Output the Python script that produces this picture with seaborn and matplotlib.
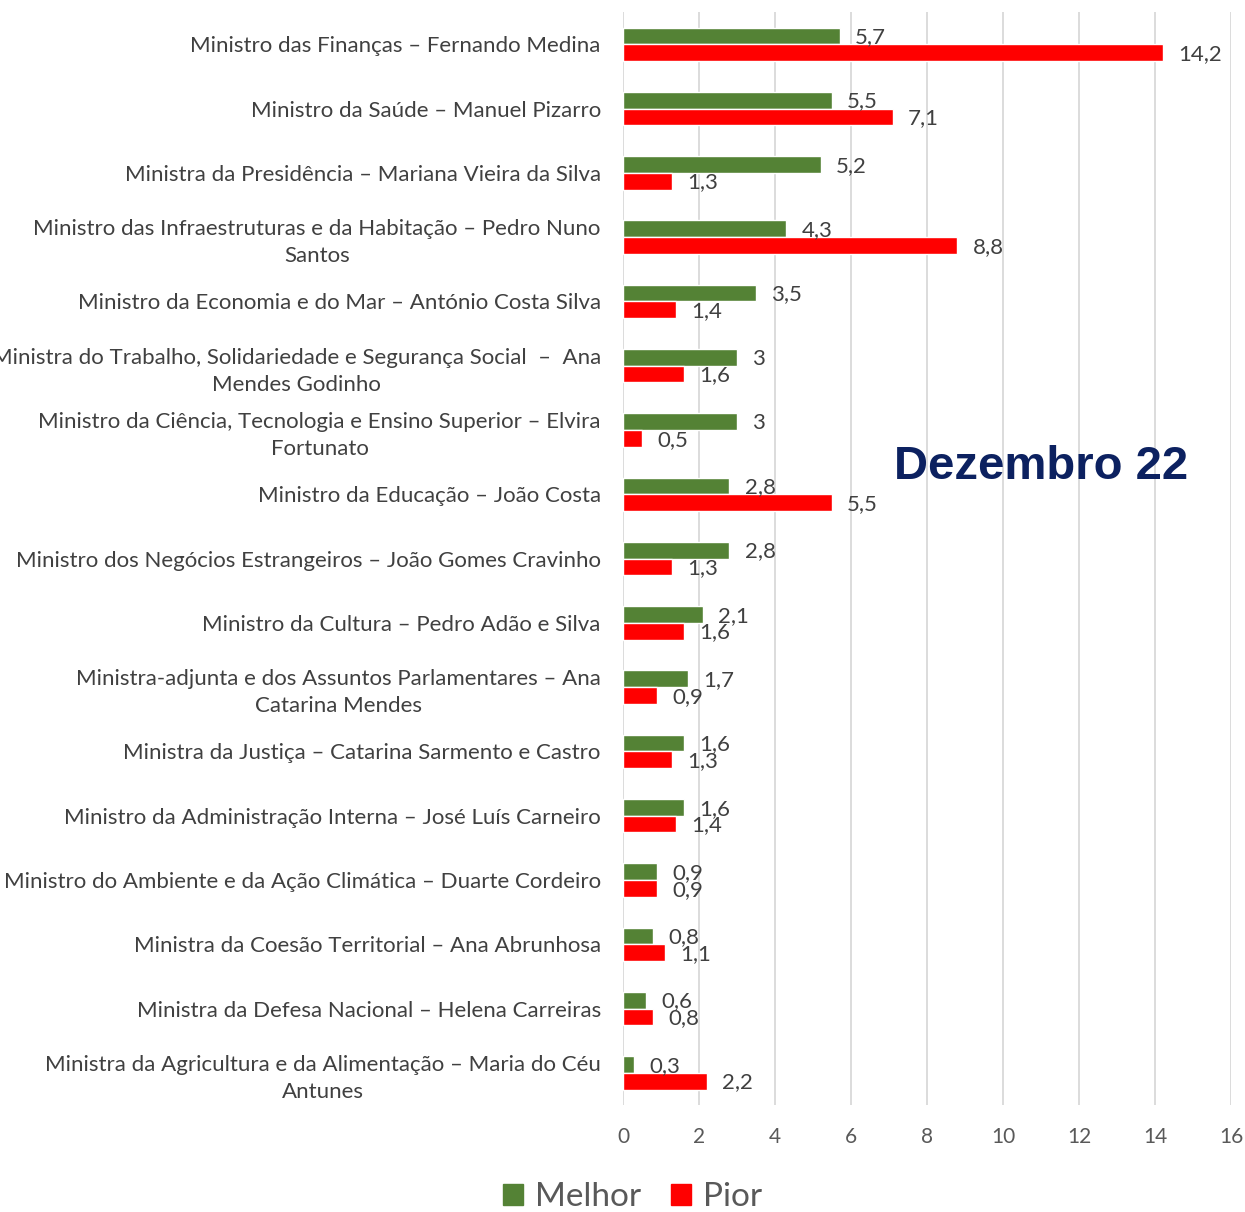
import matplotlib
matplotlib.use("Agg")
import matplotlib.pyplot as plt
import numpy as np
import pandas as pd
import seaborn as sns

ministros = [
    "Ministro das Finanças – Fernando Medina",
    "Ministro da Saúde – Manuel Pizarro",
    "Ministra da Presidência – Mariana Vieira da Silva",
    "Ministro das Infraestruturas e da Habitação – Pedro Nuno\nSantos",
    "Ministro da Economia e do Mar – António Costa Silva",
    "Ministra do Trabalho, Solidariedade e Segurança Social  –  Ana\nMendes Godinho",
    "Ministro da Ciência, Tecnologia e Ensino Superior – Elvira\nFortunato",
    "Ministro da Educação – João Costa",
    "Ministro dos Negócios Estrangeiros – João Gomes Cravinho",
    "Ministro da Cultura – Pedro Adão e Silva",
    "Ministra-adjunta e dos Assuntos Parlamentares – Ana\nCatarina Mendes",
    "Ministra da Justiça – Catarina Sarmento e Castro",
    "Ministro da Administração Interna – José Luís Carneiro",
    "Ministro do Ambiente e da Ação Climática – Duarte Cordeiro",
    "Ministra da Coesão Territorial – Ana Abrunhosa",
    "Ministra da Defesa Nacional – Helena Carreiras",
    "Ministra da Agricultura e da Alimentação – Maria do Céu\nAntunes",
]
melhor = [5.7, 5.5, 5.2, 4.3, 3.5, 3, 3, 2.8, 2.8, 2.1, 1.7, 1.6, 1.6, 0.9, 0.8, 0.6, 0.3]
pior = [14.2, 7.1, 1.3, 8.8, 1.4, 1.6, 0.5, 5.5, 1.3, 1.6, 0.9, 1.3, 1.4, 0.9, 1.1, 0.8, 2.2]
series = ["Melhor", "Pior"]
cores = {"Melhor": "#548235", "Pior": "#FF0000"}

df = pd.DataFrame({"ministro": ministros * 2,
                   "valor": melhor + pior,
                   "serie": ["Melhor"] * len(melhor) + ["Pior"] * len(pior)})

sns.set_style("white")
plt.rcParams["font.family"] = ["Lato", "DejaVu Sans"]

fig = plt.figure(figsize=(12.45, 12.12), dpi=100)
ax = fig.add_axes([0.5004, 0.0883, 0.4884, 0.9017])

sns.barplot(data=df, y="ministro", x="valor", hue="serie", palette=cores,
            order=ministros, hue_order=series, width=0.52, orient="h",
            saturation=1, ax=ax, legend=False)

ax.set_xlim(0, 16)
ax.set_xticks(np.arange(0, 17, 2))
ax.xaxis.grid(True, color="#d9d9d9", linewidth=1.3)
ax.yaxis.grid(False)
for s in ax.spines.values():
    s.set_visible(False)
ax.set_xlabel("")
ax.set_ylabel("")
ax.tick_params(axis="x", length=0, pad=16, labelsize=15, labelcolor="#595959")
ax.tick_params(axis="y", length=0, pad=16, labelsize=16, labelcolor="#404040")
for t in ax.get_yticklabels():
    t.set_multialignment("center")
    t.set_linespacing(1.45)
    t.set_y(t.get_position()[1] - 0.03)

for cont in ax.containers:
    for bar in cont:
        w = bar.get_width()
        y = bar.get_y() + bar.get_height() / 2
        ax.annotate(f"{w:g}".replace(".", ","), (w, y), xytext=(11, -1),
                    textcoords="offset points", va="center", ha="left",
                    fontsize=16, color="#404040")

fig.text(0.8365, 0.6145, "Dezembro 22", fontsize=34, fontweight="bold",
         color="#0c2160", ha="center", va="center", family="Liberation Sans")

handles = [plt.Rectangle((0, 0), 1, 1, color=cores[s]) for s in series]
fig.legend(handles, series, loc="center", bbox_to_anchor=(0.508, 0.012),
           ncol=2, frameon=False, fontsize=24, handlelength=0.6,
           handleheight=0.6, handletextpad=0.35, columnspacing=0.9,
           labelcolor="#595959")

fig.savefig("out.png", dpi=100)
